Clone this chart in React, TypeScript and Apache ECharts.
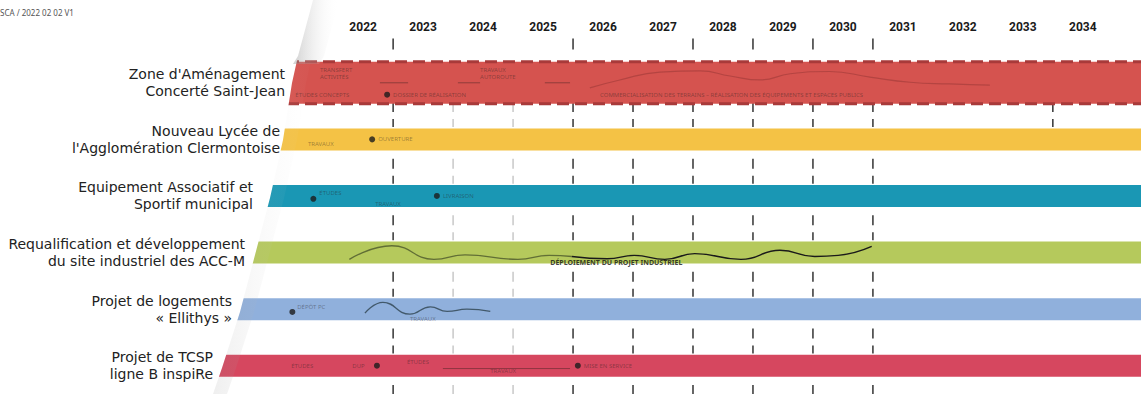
import React, { useEffect, useRef } from 'react';
import * as echarts from 'echarts';

// ---------- data ----------
const rowLabels = [
  "Zone d'Aménagement\nConcerté Saint-Jean",
  "Nouveau Lycée de\nl'Agglomération Clermontoise",
  'Equipement Associatif et\nSportif municipal',
  'Requalification et développement\ndu site industriel des ACC-M',
  'Projet de logements\n« Ellithys »',
  'Projet de TCSP\nligne B inspiRe',
];
const bandColors = ['#d5534f', '#f4c245', '#1a97b4', '#b5c95c', '#90b0dc', '#d6475f'];
const yearLabels = [2022, 2023, 2024, 2025, 2026, 2027, 2028, 2029, 2030, 2031, 2032, 2033, 2034];
const X_MIN = 2020.03;
const X_MAX = 2035.47;

// tick marks at year boundaries
const headerTickYears = [2023, 2026, 2028, 2029, 2030, 2031];
const gapTickYears = [2023, 2024, 2025, 2026, 2027, 2028, 2029, 2030, 2031];
const lightTickYears = [2024, 2025];
const extraTicks = [[2034, 1]]; // [year, gap]

// annotations inside the bands: [year, rowPosition, text]
const notesPlain: [number, number, string][] = [
  [2021.78, -0.16, 'TRANSFERT\nACTIVITÉS'],
  [2024.45, -0.16, 'TRAVAUX\nAUTOROUTE'],
  [2021.37, 0.21, 'ÉTUDES CONCEPTS'],
  [2023.0, 0.21, 'DOSSIER DE RÉALISATION'],
  [2026.45, 0.21, 'COMMERCIALISATION DES TERRAINS – RÉALISATION DES ÉQUIPEMENTS ET ESPACES PUBLICS'],
  [2021.58, 1.09, 'TRAVAUX'],
  [2022.75, 1.0, 'OUVERTURE'],
  [2021.77, 1.95, 'ÉTUDES'],
  [2022.7, 2.14, 'TRAVAUX'],
  [2023.83, 2.0, 'LIVRAISON'],
  [2021.4, 3.97, 'DÉPÔT PC'],
  [2023.28, 4.18, 'TRAVAUX'],
  [2021.3, 5.0, 'ÉTUDES'],
  [2022.32, 5.0, 'DUP'],
  [2023.23, 4.93, 'ÉTUDES'],
  [2024.62, 5.09, 'TRAVAUX'],
  [2026.18, 5.0, 'MISE EN SERVICE'],
];
const notesBold: [number, number, string][] = [
  [2025.62, 3.17, 'DÉPLOIEMENT DU PROJET INDUSTRIEL'],
];
const milestoneDots: [number, number][] = [
  [2022.9, 0.21],
  [2022.65, 1.0],
  [2021.67, 2.05],
  [2023.73, 2.0],
  [2021.32, 4.05],
  [2022.73, 5.0],
  [2026.08, 5.0],
];
// underline segments: [yearStart, yearEnd, rowPosition]
const segments: [number, number, number][] = [
  [2022.78, 2023.25, 0.0],
  [2024.08, 2024.45, 0.0],
  [2025.53, 2025.95, 0.0],
  [2023.83, 2025.95, 5.05],
];
// hand-drawn waves: [year, rowPosition]
const waveZac: [number, number][] = [
  [2026.28, 0.09], [2026.78, -0.05], [2027.45, -0.19], [2028.12, -0.21], [2028.62, -0.12],
  [2029.12, -0.05], [2029.62, -0.16], [2030.28, -0.2], [2030.95, -0.1], [2031.62, -0.01],
  [2032.28, 0.02], [2032.95, 0.04],
];
const waveIndusA: [number, number][] = [
  [2022.27, 3.12], [2022.98, 2.88], [2023.68, 3.12], [2024.2, 3.04], [2025.08, 3.12], [2025.6, 3.05], [2025.98, 3.07],
];
const waveIndusB: [number, number][] = [
  [2025.98, 3.07], [2026.57, 3.11], [2027.02, 3.05], [2027.53, 3.12], [2028.03, 3.02], [2028.8, 3.12],
  [2029.45, 2.96], [2030.03, 3.07], [2030.42, 3.05], [2030.98, 2.89],
];
const waveEllithys: [number, number][] = [
  [2022.53, 4.07], [2022.83, 3.88], [2023.28, 4.09], [2023.62, 3.96], [2023.9, 4.04], [2024.23, 4.0], [2024.62, 4.04],
];

// ---------- page-curl styling (pixels) ----------
const curlEdge = [
  [313, 0], [305, 30], [298, 56], [292, 83], [283, 140], [270, 198], [255, 255], [240, 312], [222, 368], [213, 394],
];
const curlTop = [[313, 0], [305, 30], [298, 56], [293, 64]];
const labelPadRight = [5, 10, 37, 45, 58, 77];

export default function App() {
  const ref = useRef<HTMLDivElement>(null);
  useEffect(() => {
    if (!ref.current) return;
    const chart = echarts.init(ref.current, undefined, { renderer: 'svg' });

    const noteText = (arr: [number, number, string][]) =>
      arr.map(([x, y, t]) => ({ value: [x, y], name: t }));

    const rich: any = {};
    labelPadRight.forEach((p, i) => {
      rich['r' + i] = {
        fontFamily: 'DejaVu Sans',
        fontSize: 14,
        lineHeight: 17,
        color: '#222',
        padding: [0, p, 0, 0],
      };
    });

    const maskPts = [[150, 0], ...curlEdge, [150, 394]];
    const shadePts = [...curlEdge, ...curlEdge.slice().reverse().map(([x, y]) => [x + 14, y])];
    const topShadePts = [...curlTop, ...curlTop.slice().reverse().map(([x, y]) => [x + 26, y])];
    const grad = (a: number) =>
      new echarts.graphic.LinearGradient(0, 0, 1, 0, [
        { offset: 0, color: `rgba(140,140,140,${a})` },
        { offset: 1, color: 'rgba(255,255,255,0)' },
      ]);

    const option: any = {
      animation: false,
      backgroundColor: '#ffffff',
      grid: { left: 215, right: 0, top: 54.5, height: 342, containLabel: false },
      xAxis: { type: 'value', min: X_MIN, max: X_MAX, show: false },
      yAxis: [
        {
          type: 'category',
          data: rowLabels,
          inverse: true,
          z: 10,
          axisLine: { show: false },
          axisTick: { show: false },
          splitLine: { show: false },
          axisLabel: {
            margin: -75,
            align: 'right',
            formatter: (v: string, i: number) =>
              v.split('\n').map((l) => `{r${i}|${l}}`).join('\n'),
            rich,
          },
        },
        { type: 'value', min: -0.5, max: 5.5, inverse: true, show: false },
      ],
      graphic: [
        { type: 'polygon', z: 6, silent: true, shape: { points: maskPts }, style: { fill: '#ffffff' } },
        { type: 'polygon', z: 6, silent: true, shape: { points: shadePts }, style: { fill: grad(0.14) } },
        { type: 'polygon', z: 6, silent: true, shape: { points: topShadePts }, style: { fill: grad(0.4) } },
        {
          type: 'text',
          left: 0,
          top: 8,
          z: 10,
          style: { text: 'SCA / 2022 02 02 V1', fontSize: 8, fill: '#555', fontFamily: 'Noto Sans' },
        },
      ],
      series: [
        // ticks
        {
          type: 'custom',
          yAxisIndex: 1,
          z: 1,
          silent: true,
          data: [
            ...headerTickYears.map((y) => [y, -0.5, 0]),
            ...[1, 2, 3, 4, 5, 6].flatMap((g) => gapTickYears.map((y) => [y, g - 0.5, 1])),
            ...extraTicks.map(([y, g]) => [y, g - 0.5, 1]),
          ],
          encode: { x: 0, y: 1 },
          renderItem: (params: any, api: any) => {
            const year = api.value(0);
            const b = api.coord([year, api.value(1)]);
            const light = lightTickYears.includes(year);
            const stroke = light ? '#c8c8c8' : '#333';
            const style = { stroke, lineWidth: 1.5 };
            if (api.value(2) === 0) {
              return { type: 'line', shape: { x1: b[0], y1: b[1] - 16, x2: b[0], y2: b[1] - 5 }, style };
            }
            return {
              type: 'group',
              children: [
                { type: 'line', shape: { x1: b[0], y1: b[1] - 9, x2: b[0], y2: b[1] + 1 }, style },
                { type: 'line', shape: { x1: b[0], y1: b[1] + 8, x2: b[0], y2: b[1] + 16 }, style },
              ],
            };
          },
        },
        // bands
        {
          type: 'custom',
          yAxisIndex: 1,
          z: 2,
          silent: true,
          data: rowLabels.map((_, i) => [X_MIN, i]),
          encode: { x: 0, y: 1 },
          renderItem: (params: any, api: any) => {
            const r = api.value(1);
            const cs = params.coordSys;
            const cy = api.coord([X_MIN, r])[1];
            const h = r === 0 ? 42 : 22;
            const children: any[] = [
              { type: 'rect', shape: { x: cs.x, y: cy - h / 2, width: cs.width, height: h }, style: { fill: bandColors[r] } },
            ];
            if (r === 0) {
              const ds = { stroke: '#a83a3a', lineWidth: 3, lineDash: [12, 6] };
              children.push({ type: 'line', shape: { x1: cs.x, y1: cy - h / 2, x2: cs.x + cs.width, y2: cy - h / 2 }, style: ds });
              children.push({ type: 'line', shape: { x1: cs.x, y1: cy + h / 2, x2: cs.x + cs.width, y2: cy + h / 2 }, style: ds });
            }
            return { type: 'group', children };
          },
        },
        // year labels on top
        {
          type: 'custom',
          yAxisIndex: 1,
          z: 3,
          silent: true,
          data: yearLabels.map((y) => [y + 0.5, -0.5]),
          encode: { x: 0, y: 1 },
          renderItem: (params: any, api: any) => {
            const p = api.coord([api.value(0), api.value(1)]);
            return {
              type: 'text',
              x: p[0],
              y: p[1] - 28,
              style: {
                text: String(yearLabels[params.dataIndex]),
                align: 'center',
                verticalAlign: 'middle',
                fontFamily: 'Roboto',
                fontWeight: 'bold',
                fontSize: 12,
                fill: '#1a1a1a',
              },
            };
          },
        },
        // underline segments
        {
          type: 'custom',
          yAxisIndex: 1,
          z: 4,
          silent: true,
          data: segments,
          encode: { x: [0, 1], y: 2 },
          renderItem: (params: any, api: any) => {
            const a = api.coord([api.value(0), api.value(2)]);
            const b = api.coord([api.value(1), api.value(2)]);
            return { type: 'line', shape: { x1: a[0], y1: a[1], x2: b[0], y2: b[1] }, style: { stroke: 'rgba(60,30,30,0.45)', lineWidth: 1 } };
          },
        },
        // waves
        {
          type: 'line', yAxisIndex: 1, z: 4, silent: true, smooth: 0.5, symbol: 'none',
          data: waveZac, lineStyle: { color: 'rgba(120,40,40,0.35)', width: 1.2 },
        },
        {
          type: 'line', yAxisIndex: 1, z: 4, silent: true, smooth: 0.5, symbol: 'none',
          data: waveIndusA, lineStyle: { color: 'rgba(70,80,40,0.75)', width: 1.3 },
        },
        {
          type: 'line', yAxisIndex: 1, z: 4, silent: true, smooth: 0.5, symbol: 'none',
          data: waveIndusB, lineStyle: { color: '#1a1a1a', width: 1.4 },
        },
        {
          type: 'line', yAxisIndex: 1, z: 4, silent: true, smooth: 0.5, symbol: 'none',
          data: waveEllithys, lineStyle: { color: 'rgba(40,60,70,0.75)', width: 1.3 },
        },
        // milestone dots
        {
          type: 'scatter', yAxisIndex: 1, z: 5, silent: true, symbol: 'circle', symbolSize: 6,
          data: milestoneDots, itemStyle: { color: '#1c1c1c' },
        },
        // notes
        {
          type: 'scatter', yAxisIndex: 1, z: 5, silent: true, symbolSize: 0,
          data: noteText(notesPlain),
          label: {
            show: true, position: 'right', distance: 0, formatter: '{b}',
            fontFamily: 'Noto Sans', fontSize: 6, lineHeight: 7, color: 'rgba(40,30,30,0.55)',
          },
        },
        {
          type: 'scatter', yAxisIndex: 1, z: 5, silent: true, symbolSize: 0,
          data: noteText(notesBold),
          label: {
            show: true, position: 'right', distance: 0, formatter: '{b}',
            fontFamily: 'Noto Sans', fontWeight: 'bold', fontSize: 7, color: '#111',
          },
        },
      ],
    };
    chart.setOption(option);
    return () => chart.dispose();
  }, []);
  return <div ref={ref} style={{ position: 'fixed', left: 0, top: 0, width: 1141, height: 394 }} />;
}
